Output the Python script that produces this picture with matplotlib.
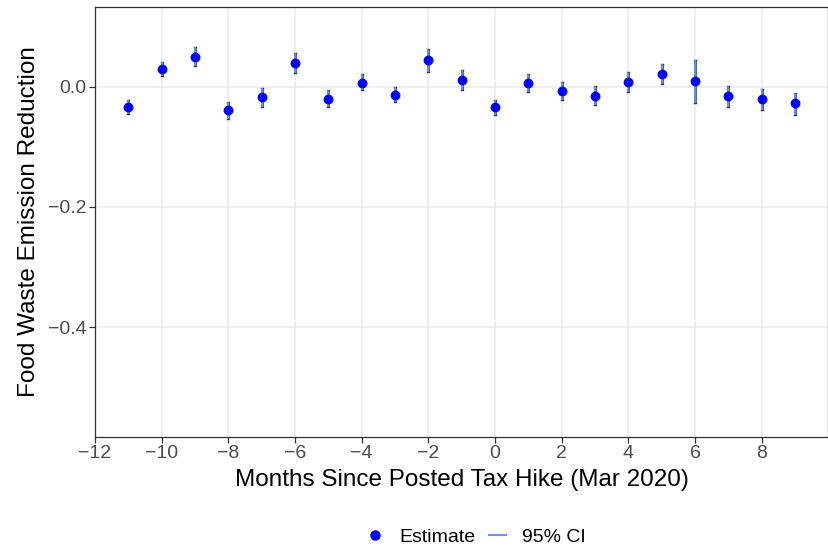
import matplotlib
matplotlib.use("Agg")
import matplotlib.pyplot as plt
from matplotlib.lines import Line2D

plt.rcParams['font.family'] = ['Liberation Sans', 'DejaVu Sans']

# Event-study estimates by month relative to the tax hike
months = [-11, -10, -9, -8, -7, -6, -5, -4, -3, -2, -1,
          0, 1, 2, 3, 4, 5, 6, 7, 8, 9]
estimate = [-0.033, 0.030, 0.050, -0.039, -0.017, 0.039, -0.020, 0.007,
            -0.013, 0.044, 0.012, -0.034, 0.006, -0.007, -0.015, 0.008,
            0.022, 0.010, -0.016, -0.021, -0.027]
ci_low = [-0.045, 0.018, 0.035, -0.054, -0.033, 0.023, -0.034, -0.006,
          -0.026, 0.024, -0.005, -0.047, -0.009, -0.022, -0.030, -0.009,
          0.005, -0.027, -0.034, -0.039, -0.047]
ci_high = [-0.022, 0.042, 0.066, -0.026, -0.002, 0.056, -0.006, 0.021,
           0.000, 0.063, 0.028, -0.022, 0.021, 0.008, 0.001, 0.024,
           0.038, 0.045, 0.001, -0.003, -0.010]

x_ticks = [-12, -10, -8, -6, -4, -2, 0, 2, 4, 6, 8]
y_ticks = [0.0, -0.2, -0.4]

point_color = '#0000FF'
ci_color = '#6495ED'
grid_color = '#EBEBEB'
text_grey = '#4D4D4D'

fig = plt.figure(figsize=(8.29, 5.51), dpi=100)
ax = fig.add_axes([95 / 829, 1 - 436.7 / 551, (828.3 - 95) / 829, (436.7 - 7.3) / 551])

# CI bars: thin dark outline with a lighter blue core, tiny caps
for m, lo, hi in zip(months, ci_low, ci_high):
    ax.plot([m, m], [lo, hi], color='#5A6A8A', lw=2.2, solid_capstyle='butt', zorder=3)
    ax.plot([m - 0.03, m + 0.03], [lo, lo], color='#333344', lw=1.0, zorder=3)
    ax.plot([m - 0.03, m + 0.03], [hi, hi], color='#333344', lw=1.0, zorder=3)
    ax.plot([m, m], [lo, hi], color=ci_color, lw=1.2, solid_capstyle='butt', zorder=4)

ax.scatter(months, estimate, s=50, color=point_color, zorder=5, linewidths=0)

ax.set_xlim(-12, 10)
ax.set_ylim(-0.5825, 0.1325)
ax.set_xticks(x_ticks)
ax.set_xticklabels(['\u2212' + str(-t) if t < 0 else str(t) for t in x_ticks])
ax.set_yticks(y_ticks)
ax.set_yticklabels(['0.0', '\u22120.2', '\u22120.4'])

ax.grid(True, color=grid_color, lw=1.1, zorder=0)
ax.set_axisbelow(True)
for s in ax.spines.values():
    s.set_color('#333333')
    s.set_linewidth(0.9)
ax.tick_params(axis='both', colors='#333333', length=4, width=0.9,
               labelsize=14, labelcolor=text_grey, pad=2)

ax.set_xlabel('Months Since Posted Tax Hike (Mar 2020)', fontsize=17.5, color='black', labelpad=5)
ax.set_ylabel('Food Waste Emission Reduction', fontsize=17.5, color='black', labelpad=6)

handles = [
    Line2D([], [], marker='o', color=point_color, linestyle='none', markersize=6.5),
    Line2D([], [], color=ci_color, lw=1.5),
]
fig.legend(handles, ['Estimate', '95% CI'], loc='center', bbox_to_anchor=(476 / 829, 1 - 537 / 551),
           ncol=2, frameon=False, fontsize=14, handlelength=0.9, handletextpad=0.8,
           columnspacing=0.7)

fig.savefig('out.png', dpi=100)
